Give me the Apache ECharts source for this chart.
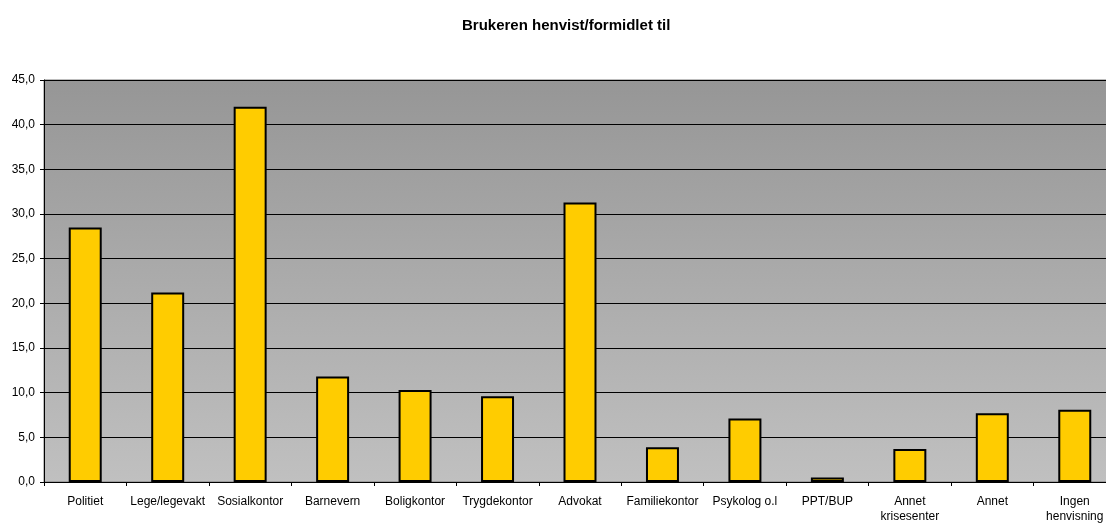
<!DOCTYPE html>
<html>
<head>
<meta charset="utf-8">
<script src="https://cdn.jsdelivr.net/npm/echarts@6/dist/echarts.min.js"></script>
<style>
  html, body { margin: 0; padding: 0; background: #fff; overflow: hidden; }
  #chart { width: 1116px; height: 524px; }
</style>
</head>
<body>
<div id="chart"></div>
<script>
var categories = ['Politiet', 'Lege/legevakt', 'Sosialkontor', 'Barnevern', 'Boligkontor',
    'Trygdekontor', 'Advokat', 'Familiekontor', 'Psykolog o.l', 'PPT/BUP',
    'Annet\nkrisesenter', 'Annet', 'Ingen\nhenvisning'];
var values = [28.5, 21.2, 42.0, 11.8, 10.3, 9.6, 31.3, 3.9, 7.1, 0.5, 3.7, 7.7, 8.1];

// chart is drawn a bit wider than the window, the right edge is cut off like in the original
var chart = echarts.init(document.getElementById('chart'));

var option = {
    animation: false,
    backgroundColor: '#ffffff',
    title: {
        text: 'Brukeren henvist/formidlet til',
        left: 457,
        top: 13,
        textStyle: {
            fontFamily: 'Liberation Sans, Arial, sans-serif',
            fontSize: 15,
            fontWeight: 'bold',
            color: '#000'
        }
    },
    grid: {
        left: 44,
        right: 0,
        top: 80,
        bottom: 41,
        show: true,
        borderColor: '#7a7a7a',
        borderWidth: 1,
        backgroundColor: new echarts.graphic.LinearGradient(0, 0, 0, 1, [
            { offset: 0, color: '#969696' },
            { offset: 1, color: '#c0c0c0' }
        ])
    },
    xAxis: {
        type: 'category',
        data: categories,
        axisLine: { lineStyle: { color: '#000', width: 1 } },
        axisTick: { show: true, alignWithLabel: false, length: 4, lineStyle: { color: '#000' } },
        axisLabel: {
            interval: 0,
            margin: 12,
            fontFamily: 'Liberation Sans, Arial, sans-serif',
            fontSize: 12,
            lineHeight: 15,
            color: '#000'
        }
    },
    yAxis: {
        type: 'value',
        min: 0,
        max: 45,
        interval: 5,
        axisLine: { show: true, lineStyle: { color: '#000', width: 1 } },
        axisTick: { show: true, length: 4, lineStyle: { color: '#000' } },
        splitLine: { show: true, lineStyle: { color: '#000', width: 1 } },
        axisLabel: {
            margin: 9,
            fontFamily: 'Liberation Sans, Arial, sans-serif',
            fontSize: 12,
            color: '#000',
            formatter: function (v) {
                return v.toFixed(1).replace('.', ',');
            }
        }
    },
    series: [{
        type: 'bar',
        data: values,
        barWidth: '40%',
        itemStyle: {
            color: '#ffcc00',
            borderColor: '#000',
            borderWidth: 2
        }
    }]
};

chart.setOption(option);
</script>
</body>
</html>
